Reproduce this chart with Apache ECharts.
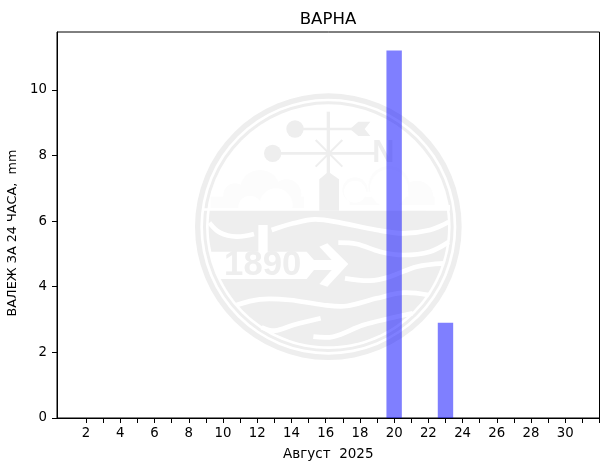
<!DOCTYPE html>
<html><head><meta charset="utf-8">
<style>html,body{margin:0;padding:0;background:#fff}#c{width:609px;height:470px}</style>
<script src="https://cdn.jsdelivr.net/npm/echarts@6/dist/echarts.min.js"></script>
</head><body><div id="c"></div>
<script>
const chartTitle = 'ВАРНА';
const xName = 'Август  2025';
const yName = 'ВАЛЕЖ ЗА 24 ЧАСА,  mm';
const days = [20, 23];
const rainfall = [11.2, 2.9];
const xLabelValues = [2,4,6,8,10,12,14,16,18,20,22,24,26,28,30];
const xTickValues = [2,3,4,5,6,7,8,9,10,11,12,13,14,15,16,17,18,19,20,21,22,23,24,25,26,27,28,29,30,31,32];
const yTickValues = [0,2,4,6,8,10];

const GREY = '#eeeeee', PALE = '#fcfcfc', WHITE = '#ffffff';
const CX = 415, CY = 410;
const circ = (cx, cy, r, fill) => ({type:'circle', shape:{cx,cy,r}, style:{fill}});
const ring = (r0, r) => ({type:'ring', shape:{cx:CX,cy:CY,r0,r}, style:{fill:GREY}});
const rect = (x, y, width, height, fill) => ({type:'rect', shape:{x,y,width,height}, style:{fill}});
const poly = (points, fill) => ({type:'polygon', shape:{points}, style:{fill}});
const line = (x1, y1, x2, y2, w) => ({type:'line', shape:{x1,y1,x2,y2}, style:{stroke:GREY, lineWidth:w}});
const wave = (points) => ({type:'polyline', shape:{points, smooth:0.35}, style:{stroke:WHITE, lineWidth:14, fill:null, lineCap:'butt'}});
const logoText = (text, x, y, fontSize) => ({type:'text', style:{text, x, y, fill:GREY, fontFamily:'Liberation Sans', fontWeight:'bold', fontSize, align:'center', verticalAlign:'middle'}});
function waterDisc() {
  const pts = [], R = 359, top = 362, a0 = Math.asin((top - CY) / R);
  for (let i = 0; i <= 90; i++) {
    const a = a0 + (Math.PI - 2 * a0) * i / 90;
    pts.push([CX + R * Math.cos(a), CY + R * Math.sin(a)]);
  }
  return poly(pts, GREY);
}
const logo = [
  ring(384, 400), ring(367, 376),
  circ(210,300,60,PALE), circ(290,312,44,PALE), circ(135,315,35,PALE), rect(62,320,280,35,PALE),
  circ(258,345,50,WHITE), circ(180,352,35,WHITE),
  circ(597,290,62,PALE), circ(680,322,50,PALE), circ(495,300,38,PALE), rect(479,320,255,25,PALE),
  circ(597,295,57,WHITE), circ(495,305,33,WHITE), rect(465,305,190,15,WHITE),
  rect(40,355,345,7,WHITE), rect(450,345,330,17,WHITE),
  waterDisc(),
  wave([[58,398],[90,428],[140,440],[192,432]]),
  wave([[245,420],[310,400],[375,388],[450,398],[560,420],[640,430],[720,420],[776,396]]),
  wave([[445,458],[500,462],[570,485],[640,495],[720,485],[776,456]]),
  wave([[465,565],[540,572],[600,560],[680,530],[762,520]]),
  wave([[140,645],[210,628],[300,630],[400,645],[470,648],[560,625],[640,608],[716,615]]),
  wave([[215,712],[255,722],[310,705],[392,685]]),
  wave([[370,740],[430,740],[520,705],[600,685],[668,670]]),
  rect(205,405,28,85,WHITE),
  poly([[60,485],[350,485],[372,510],[425,510],[388,470],[412,460],[475,522],[412,590],[388,582],[425,540],[372,540],[350,567],[85,567]], WHITE),
  logoText('1890', 218, 527, 104),
  line(415,65,415,260,10),
  poly([[388,362],[388,268],[415,245],[447,268],[447,362]], GREY),
  line(315,117,490,117,8), circ(315,117,26,GREY),
  poly([[480,117],[505,95],[541,95],[524,117],[541,138],[505,138]], GREY),
  line(248,190,555,190,8), circ(248,190,26,GREY),
  line(377,150,457,230,6), line(457,150,377,230,6),
  logoText('N', 580, 190, 92)
];

const FONT = '"DejaVu Sans"';
const chart = echarts.init(document.getElementById('c'), null, {renderer:'canvas'});
chart.setOption({
  animation:false,
  backgroundColor:'#fff',
  title:{text:chartTitle, left:323, top:6, textAlign:'center', textStyle:{fontFamily:FONT, fontSize:16.6, fontWeight:'normal', color:'#000'}},
  graphic:[{type:'group', x:190, y:90, scaleX:1/3, scaleY:1/3, z:0, silent:true, children:logo}],
  grid:{left:57, right:9.5, top:32, bottom:52, show:true, outerBoundsMode:'none', borderColor:'#000', borderWidth:1, backgroundColor:'transparent'},
  xAxis:{type:'value', min:0.3, max:32, name:xName, nameLocation:'middle', nameGap:29,
    nameTextStyle:{fontFamily:FONT, fontSize:13.5, color:'#000'},
    splitLine:{show:false},
    axisLine:{show:true, onZero:false, lineStyle:{color:'#000', width:1}},
    axisTick:{show:true, length:5, customValues:xTickValues, lineStyle:{color:'#000', width:1}},
    axisLabel:{show:true, customValues:xLabelValues, margin:9, fontFamily:FONT, fontSize:13.3, color:'#000', hideOverlap:false, showMinLabel:true, showMaxLabel:true}},
  yAxis:{type:'value', min:0, max:11.76, name:yName, nameLocation:'middle', nameGap:34,
    nameTextStyle:{fontFamily:FONT, fontSize:12.8, color:'#000', padding:[0,16,0,0]},
    splitLine:{show:false},
    axisLine:{show:true, lineStyle:{color:'#000', width:1}},
    axisTick:{show:true, length:5, customValues:yTickValues, lineStyle:{color:'#000', width:1}},
    axisLabel:{show:true, customValues:yTickValues, margin:10, fontFamily:FONT, fontSize:13.3, color:'#000'}},
  series:[{type:'bar', barWidth:15.4, z:5, itemStyle:{color:'rgba(0,0,255,0.5)'},
    data:days.map((d,i)=>[d, rainfall[i]])}]
});
</script></body></html>
